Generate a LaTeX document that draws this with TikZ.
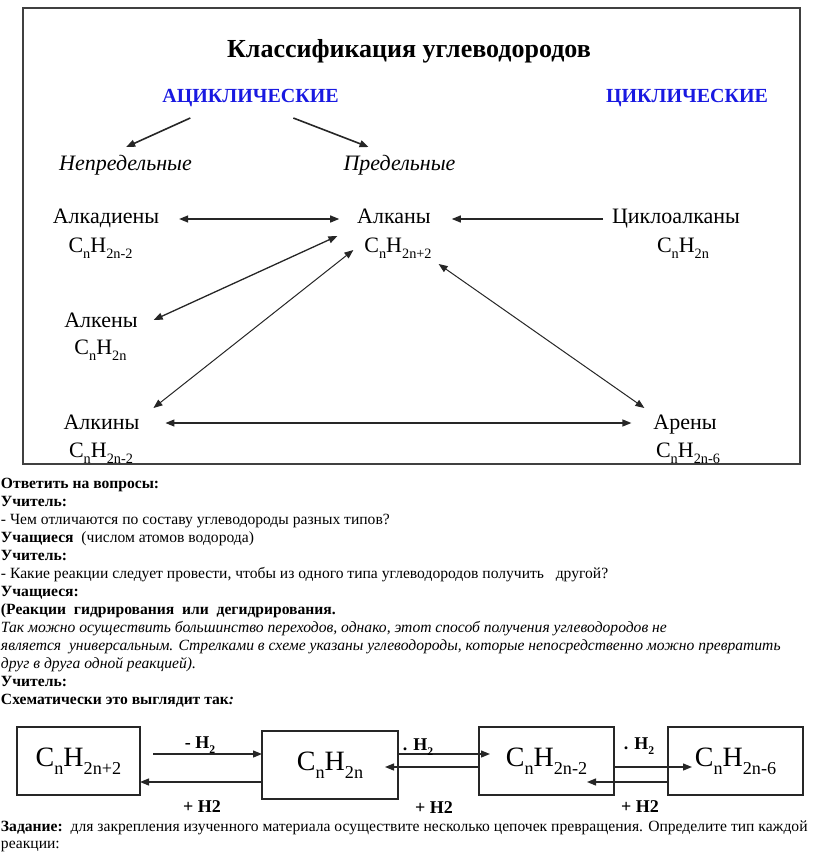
\documentclass[tikz,border=0pt]{standalone}
\usepackage{fontspec}
\setmainfont{Liberation Serif}
\usetikzlibrary{arrows.meta}
\definecolor{acblue}{RGB}{25,25,225}
\newcommand\lo[1]{\raisebox{-0.28em}{\scalebox{0.65}{#1}}}
\begin{document}
\begin{tikzpicture}[x=1pt,y=-1pt,
  every node/.style={inner sep=0pt, outer sep=0pt},
  nm/.style={anchor=base, font=\fontsize{22}{26}\selectfont},
  hd/.style={anchor=base, font=\fontsize{20}{24}\selectfont\bfseries, text=acblue},
  cat/.style={anchor=base, font=\fontsize{22}{26}\selectfont\itshape},
  con/.style={draw=black!85, line width=1.3pt, -{Triangle[length=9pt,width=7pt]}},
  dcon/.style={draw=black!85, line width=1.3pt, {Triangle[length=9pt,width=7pt]}-{Triangle[length=9pt,width=7pt]}},
  txt/.style={anchor=base west, font=\fontsize{15.6}{18}\selectfont},
  bx/.style={draw=black!85, line width=1.5pt, minimum height=68pt, font=\fontsize{28}{32}\selectfont},
  lab/.style={anchor=base, font=\fontsize{18}{20}\selectfont\bfseries}
]
\useasboundingbox (0,0) rectangle (816,854);
% frame
\draw[draw=black!75, line width=2pt] (23,8) rectangle (800,464);
\node[anchor=base, font=\fontsize{26}{30}\selectfont\bfseries] (title) at (409,57) {Классификация углеводородов};
\node[hd] (acyc) at (250.5,102) {АЦИКЛИЧЕСКИЕ};
\node[hd] (cyc) at (687,102) {ЦИКЛИЧЕСКИЕ};
\node[cat] (unsat) at (125.5,170) {Непредельные};
\node[cat] (sat) at (399.5,170) {Предельные};
% compounds
\node[nm] (adien) at (106,223) {Алкадиены};
\node[nm] (adienf) at (100.5,252) {C\lo{n}H\lo{2n-2}};
\node[nm] (alkan) at (394,223) {Алканы};
\node[nm] (alkanf) at (398,252) {C\lo{n}H\lo{2n+2}};
\node[nm] (cyclo) at (676,223) {Циклоалканы};
\node[nm] (cyclof) at (683,252) {C\lo{n}H\lo{2n}};
\node[nm] (alken) at (101,327) {Алкены};
\node[nm] (alkenf) at (100.5,354) {C\lo{n}H\lo{2n}};
\node[nm] (alkin) at (101.5,429) {Алкины};
\node[nm] (alkinf) at (101,457) {C\lo{n}H\lo{2n-2}};
\node[nm] (aren) at (685,429) {Арены};
\node[nm] (arenf) at (688,457) {C\lo{n}H\lo{2n-6}};
% connectors
\draw[con, line width=1.6pt] ([shift={(28,16)}]acyc.base west) -- ([shift={(67,-23)}]unsat.base west);
\draw[con, line width=1.6pt] ([shift={(131,16)}]acyc.base west) -- ([shift={(25,-23)}]sat.base west);
\draw[dcon] ([shift={(20,-4)}]adien.base east) -- ([shift={(-18,-4)}]alkan.base west);
\draw[con] ([shift={(-9,-4)}]cyclo.base west) -- ([shift={(21,-4)}]alkan.base east);
\draw[dcon] ([shift={(16,-7)}]alken.base east) -- ([shift={(-27,-16)}]alkanf.base west);
\draw[dcon, line width=1pt] ([shift={(14,-21)}]alkin.base east) -- ([shift={(-11,-2)}]alkanf.base west);
\draw[dcon, line width=1pt] ([shift={(7,12)}]alkanf.base east) -- ([shift={(-9,-21)}]aren.base west);
\draw[dcon] ([shift={(26,-6)}]alkin.base east) -- ([shift={(-22,-6)}]aren.base west);
% text
\node[txt] (t1) at (1,488) {\bfseries Ответить на вопросы:};
\node[txt] (t2) at (1,506) {\bfseries Учитель:};
\node[txt] (t3) at (1,524) {- Чем отличаются по составу углеводороды разных типов?};
\node[txt] (t4) at (1,542) {{\bfseries Учащиеся}\ \ (числом атомов водорода)};
\node[txt] (t5) at (1,560) {\bfseries Учитель:};
\node[txt] (t6) at (1,578) {- Какие реакции следует провести, чтобы из одного типа углеводородов получить\ \ \ другой?};
\node[txt] (t7) at (1,596) {\bfseries Учащиеся:};
\node[txt] (t8) at (1,614) {\bfseries (Реакции\ \ гидрирования\ \ или\ \ дегидрирования.};
\node[txt] (t9) at (1,632) {\itshape Так можно осуществить большинство переходов, однако, этот способ получения углеводородов не};
\node[txt] (t10) at (1,650) {\itshape является\ \ универсальным. Стрелками в схеме указаны углеводороды, которые непосредственно можно превратить};
\node[txt] (t11) at (1,668) {\itshape друг в друга одной реакцией).};
\node[txt] (t12) at (1,686) {\bfseries Учитель:};
\node[txt] (t13) at (1,704) {\bfseries Схематически это выглядит так\textit{:}};
% scheme
\node[bx, minimum width=123pt] (b1) at (78.5,761) {C\lo{n}H\lo{2n+2}};
\node[bx, minimum width=136pt] (b2) at (330,765) {C\lo{n}H\lo{2n}};
\node[bx, minimum width=135pt] (b3) at (546.5,761) {C\lo{n}H\lo{2n-2}};
\node[bx, minimum width=135pt] (b4) at (735.5,761) {C\lo{n}H\lo{2n-6}};
\draw[con] ([shift={(13,-7)}]b1.east) -- ([shift={(0,-11)}]b2.west);
\draw[con] ([shift={(0,17)}]b2.west) -- ([shift={(0,21)}]b1.east);
\draw[con] ([shift={(0,-11)}]b2.east) -- ([shift={(11,-7)}]b3.west);
\draw[con] ([shift={(0,6)}]b3.west) -- ([shift={(-13,2)}]b2.east);
\draw[con] ([shift={(0,6)}]b3.east) -- ([shift={(24,6)}]b4.west);
\draw[con] ([shift={(0,21)}]b4.west) -- ([shift={(-27,21)}]b3.east);
\node[lab] (l1) at (200,748) {- H\lo{2}};
\node[lab] (l2) at (418,750) {. H\lo{2}};
\node[lab] (l3) at (639,749) {. H\lo{2}};
\node[lab] (p1) at (202,812) {+ H2};
\node[lab] (p2) at (434,813) {+ H2};
\node[lab] (p3) at (640,812) {+ H2};
\node[txt] (z1) at (1,831) {{\bfseries Задание:}\ \ для закрепления изученного материала осуществите несколько цепочек превращения. Определите тип каждой};
\node[txt] (z2) at (1,848) {реакции:};
\end{tikzpicture}
\end{document}
